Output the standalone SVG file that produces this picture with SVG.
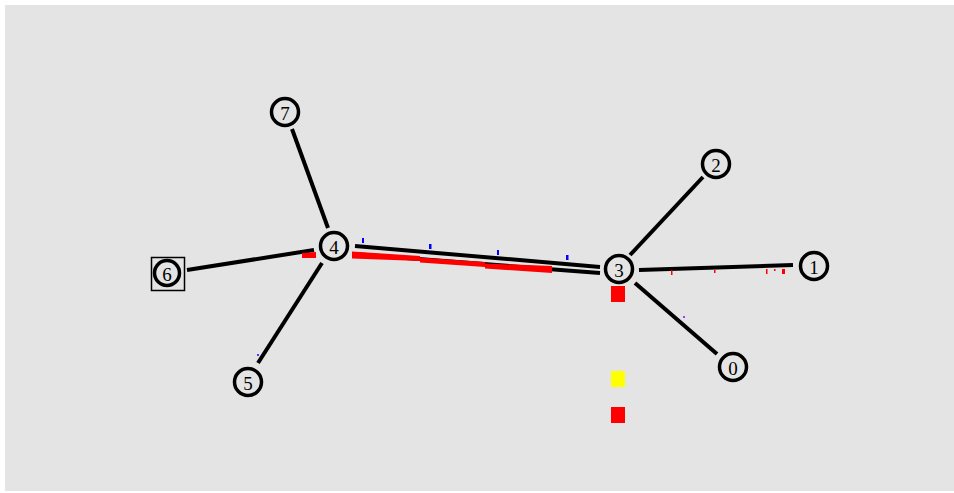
<svg xmlns="http://www.w3.org/2000/svg" width="954" height="493" viewBox="0 0 954 493">
<style>
.link{stroke:#000;stroke-width:4;stroke-linecap:butt;fill:none}
.node circle{fill:#e4e4e4;stroke:#000;stroke-width:3.5}
.node text{font-family:"Liberation Serif","DejaVu Serif",serif;font-size:19px;fill:#000;text-anchor:middle;dominant-baseline:central}
.pkt{fill:#ff0000}
.tick{fill:#0000ff}
</style>
<rect x="0" y="0" width="954" height="493" fill="#ffffff"/>
<rect x="5" y="5" width="949" height="486" fill="#e4e4e4"/>
<g id="connectors">
  <line class="link" x1="292" y1="129" x2="328" y2="228"/>
  <line class="link" x1="187" y1="270" x2="314" y2="250"/>
  <line class="link" x1="322" y1="263" x2="258" y2="363"/>
  <line class="link" x1="355" y1="246" x2="600" y2="267"/>
  <line class="link" x1="354" y1="254" x2="600" y2="273"/>
  <line class="link" x1="630" y1="255" x2="703" y2="177"/>
  <line class="link" x1="639" y1="270" x2="793" y2="265"/>
  <line class="link" x1="635" y1="283" x2="717" y2="354"/>
  <polygon class="pkt" points="352,251.5 420,256 420,257.5 485,262 485,263.5 552,266 552,273 485,268.5 485,267 420,262.5 420,261 352,258.5"/>
  <polygon class="pkt" points="302,253 316,252 316,258 302,258"/>
  <rect class="tick" x="362" y="238" width="2" height="5"/>
  <rect class="tick" x="429" y="244" width="2.5" height="5"/>
  <rect class="tick" x="497" y="250" width="2" height="5"/>
  <rect class="tick" x="566" y="255" width="2.5" height="5"/>
  <rect class="pkt" x="671" y="270" width="1.5" height="5"/>
  <rect class="pkt" x="714" y="270" width="1.5" height="3"/>
  <rect class="pkt" x="766" y="269" width="1.5" height="5"/>
  <rect class="pkt" x="774" y="269" width="1.5" height="2"/>
  <rect class="pkt" x="782" y="269" width="3" height="5"/>
  <rect x="683" y="316" width="2" height="2" fill="#a040ff"/>
  <rect x="257" y="354" width="2" height="2" fill="#4040ff"/>
  <rect class="pkt" x="611" y="286" width="14" height="16"/>
  <rect x="611" y="371" width="14" height="16" fill="#ffff00"/>
  <rect class="pkt" x="611" y="407" width="14" height="16"/>
</g>
<g id="node0" class="node"><circle cx="733" cy="367" r="13.5"/><text x="733" y="368">0</text></g>
<g id="node1" class="node"><circle cx="814" cy="266" r="13.5"/><text x="814" y="267">1</text></g>
<g id="node2" class="node"><circle cx="716" cy="164" r="13.5"/><text x="716" y="165">2</text></g>
<g id="node3" class="node"><circle cx="619" cy="269" r="13.5"/><text x="619" y="270">3</text></g>
<g id="node4" class="node"><circle cx="334" cy="246" r="13.5"/><text x="334" y="247">4</text></g>
<g id="node5" class="node"><circle cx="248" cy="382" r="13.5"/><text x="248" y="383">5</text></g>
<g id="node6" class="node"><rect x="151.5" y="257.5" width="33" height="33" fill="none" stroke="#000" stroke-width="1.5"/><circle cx="167" cy="273" r="12.5"/><text x="167" y="274">6</text></g>
<g id="node7" class="node"><circle cx="285" cy="112" r="13.5"/><text x="285" y="113">7</text></g>
</svg>
